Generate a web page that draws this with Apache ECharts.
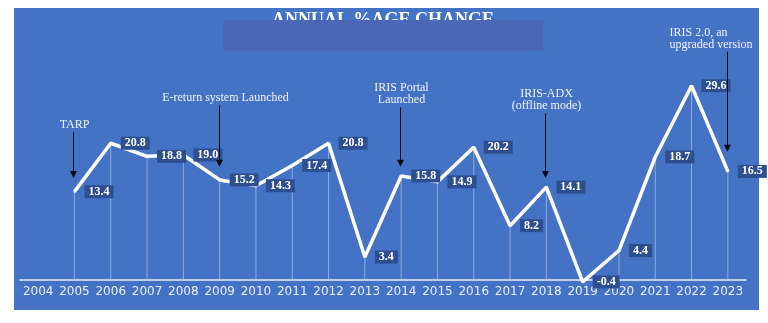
<!DOCTYPE html>
<html>
<head>
<meta charset="utf-8">
<script src="https://cdn.jsdelivr.net/npm/echarts@6/dist/echarts.min.js"></script>
<style>
  html, body { margin: 0; padding: 0; background: #ffffff; }
  #wrap { position: relative; width: 768px; height: 323px; }
  #panel { position: absolute; left: 14px; top: 8px; width: 745px; height: 302px; background: #4472C4; }
  #chart { position: absolute; left: 0; top: 0; width: 768px; height: 323px; }
</style>
</head>
<body>
<div id="wrap">
  <div id="panel"></div>
  <div id="chart"></div>
</div>
<script>
// Years on the category axis
const years = ['2004','2005','2006','2007','2008','2009','2010','2011','2012','2013',
               '2014','2015','2016','2017','2018','2019','2020','2021','2022','2023'];
// Annual percentage change (no value for 2004)
const changes = [null, 13.4, 20.8, 18.8, 19.0, 15.2, 14.3, 17.4, 20.8, 3.4,
                 15.8, 14.9, 20.2, 8.2, 14.1, -0.4, 4.4, 18.7, 29.6, 16.5];

// Milestone notes: year, text, arrow start value, arrow tip value
const noteYears = ['2005', '2009', '2014', '2018', '2023'];
const noteTexts = ['TARP', 'E-return system Launched', 'IRIS Portal\nLaunched',
                   'IRIS-ADX\n(offline mode)', 'IRIS 2.0, an\nupgraded version'];
const noteFrom = [22.5, 26.6, 26.3, 25.4, 34.8];
const noteTo = [15.5, 17.2, 17.2, 15.5, 19.5];

const chart = echarts.init(document.getElementById('chart'), null, { renderer: 'canvas' });

const option = {
  animation: false,
  backgroundColor: 'transparent',
  grid: { left: 20, right: 22, top: 70, bottom: 40.4 },
  xAxis: {
    type: 'category',
    data: years,
    boundaryGap: true,
    axisLine: { onZero: true, lineStyle: { color: '#E9EEF9', width: 1.5 } },
    axisTick: { show: false },
    splitLine: { show: false },
    axisLabel: {
      color: '#E9EEF9', fontFamily: 'DejaVu Sans', fontSize: 12,
      margin: 3, interval: 0
    }
  },
  yAxis: {
    type: 'value', min: -0.5, max: 32, show: false,
    splitLine: { show: false }
  },
  series: [
    {
      // thin drop lines from each point to the axis
      type: 'bar',
      data: changes,
      barWidth: 1,
      silent: true,
      itemStyle: { color: 'rgba(255,255,255,0.4)' },
      z: 1
    },
    {
      type: 'line',
      data: changes,
      symbol: 'circle',
      symbolSize: 2,
      silent: true,
      clip: false,
      itemStyle: { color: '#ffffff' },
      lineStyle: { color: '#ffffff', width: 3.5 },
      z: 3,
      label: {
        show: true,
        position: 'right',
        distance: 9,
        formatter: p => p.value.toFixed(1),
        color: '#ffffff',
        fontFamily: 'Liberation Serif',
        fontWeight: 'bold',
        fontSize: 12,
        backgroundColor: '#2E4F8F',
        padding: [1, 4, 0, 4],
        lineHeight: 12
      },
      emphasis: { disabled: true }
    }
  ]
};
chart.setOption(option);

// Title, its overlapping band, and milestone arrows placed through the chart's scales
const gfx = [
  { type: 'text', id: 'title', z: 10, silent: true,
    style: { text: 'ANNUAL %AGE CHANGE', x: 383, y: 11, align: 'center',
             verticalAlign: 'top', fill: '#ffffff',
             font: 'bold 18px "Liberation Serif", serif' } },
  { type: 'rect', id: 'band', z: 11, silent: true,
    shape: { x: 223, y: 20, width: 320, height: 31 },
    style: { fill: '#4A67B8' } }
];
noteYears.forEach((yr, i) => {
  const a = chart.convertToPixel({ gridIndex: 0 }, [yr, noteFrom[i]]);
  const b = chart.convertToPixel({ gridIndex: 0 }, [yr, noteTo[i]]);
  const x = Math.round(a[0]) - 0.5;
  gfx.push({ type: 'line', id: 'stem' + i, z: 20, silent: true,
    shape: { x1: x, y1: a[1], x2: x, y2: b[1] - 6 },
    style: { stroke: '#0A0A14', lineWidth: 1 } });
  gfx.push({ type: 'polygon', id: 'head' + i, z: 20, silent: true,
    shape: { points: [[x - 3.5, b[1] - 7], [x + 3.5, b[1] - 7], [x, b[1]]] },
    style: { fill: '#0A0A14' } });
  const last = i === noteYears.length - 1;
  gfx.push({ type: 'text', id: 'note' + i, z: 20, silent: true,
    style: {
      text: noteTexts[i],
      x: last ? x - 58 : x + (i === 1 ? 6 : 1),
      y: a[1] - 1,
      align: last ? 'left' : 'center',
      verticalAlign: 'bottom',
      fill: '#F0F3FB',
      font: '12px "Liberation Serif", serif',
      lineHeight: 12
    } });
});
chart.setOption({ graphic: gfx });
</script>
</body>
</html>
